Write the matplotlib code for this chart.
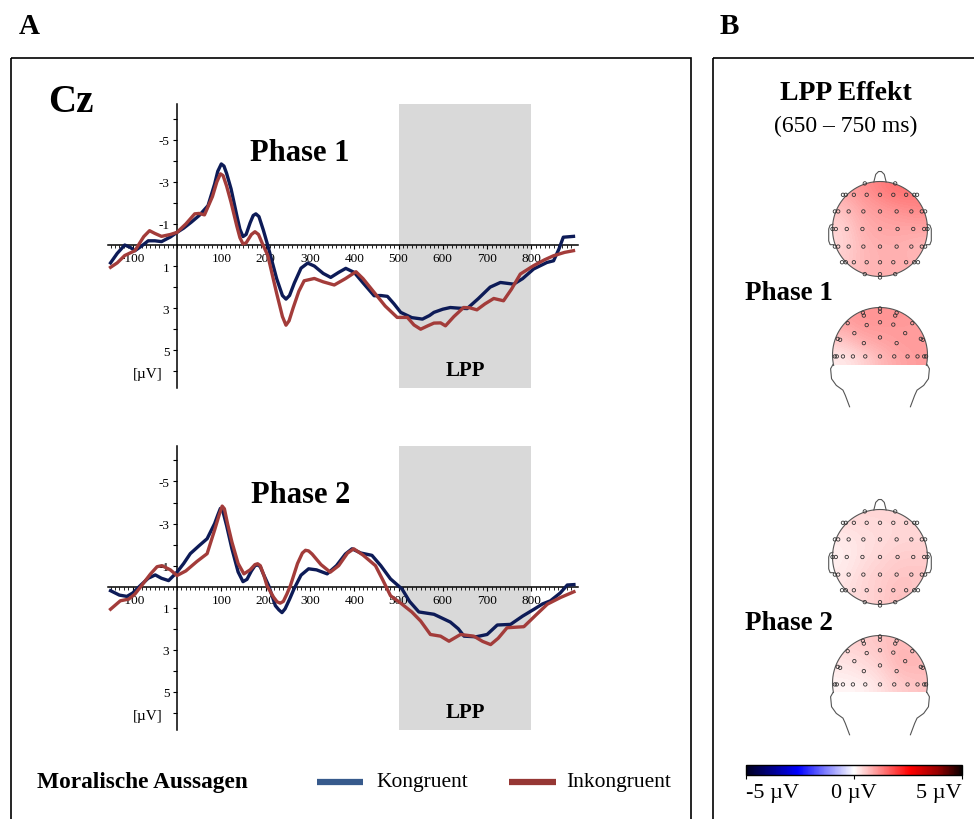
import numpy as np
import matplotlib.pyplot as plt
from matplotlib.colors import LinearSegmentedColormap, Normalize
from matplotlib.patches import Rectangle, Circle, Polygon
from matplotlib.ticker import FixedLocator
import matplotlib.cm as cm

plt.rcParams['font.family'] = ['Liberation Serif', 'DejaVu Serif']

W, H = 974, 820

# ---- ERP data at Cz (time in ms, amplitude in microvolt, negative up) ----
p1_kon_t = [-150, -135, -118, -105, -95, -80, -65, -50, -35, -15, 0, 15, 32, 50, 70, 85, 92, 100,
            106, 112, 122, 135, 142, 149, 156, 165, 172, 178, 185, 195, 205, 225, 238, 246, 254,
            265, 280, 295, 310, 330, 347, 365, 381, 400, 420, 445, 460, 475, 490, 505, 530, 554,
            570, 580, 600, 617, 635, 655, 680, 707, 730, 760, 780, 805, 835, 850, 862, 872, 895]
p1_kon_v = [0.85, 0.4, 0.0, 0.12, 0.27, 0.05, -0.2, -0.2, -0.16, -0.38, -0.6, -0.8, -1.08, -1.4,
            -1.87, -2.9, -3.5, -3.85, -3.75, -3.4, -2.67, -1.4, -0.75, -0.4, -0.5, -1.05, -1.4,
            -1.48, -1.35, -0.7, 0.03, 1.6, 2.4, 2.57, 2.4, 1.8, 1.1, 0.86, 1.0, 1.35, 1.54, 1.3,
            1.11, 1.3, 1.8, 2.41, 2.4, 2.44, 2.8, 3.2, 3.45, 3.52, 3.35, 3.2, 3.05, 2.97, 3.0, 3.02,
            2.55, 2.0, 1.78, 1.86, 1.6, 1.14, 0.83, 0.75, 0.2, -0.37, -0.41]

p1_ink_t = [-150, -135, -118, -95, -75, -62, -50, -35, -15, 0, 20, 40, 50, 62, 80, 90, 98, 104,
            112, 122, 135, 142, 149, 156, 168, 176, 184, 192, 205, 225, 238, 246, 253, 262, 275,
            287, 310, 330, 355, 380, 404, 420, 445, 470, 497, 520, 535, 550, 565, 580, 595, 606,
            625, 647, 660, 677, 695, 715, 737, 755, 775, 805, 830, 850, 875, 895]
p1_ink_v = [1.06, 0.85, 0.5, 0.27, -0.4, -0.68, -0.55, -0.41, -0.5, -0.6, -1.0, -1.48, -1.5,
            -1.43, -2.3, -3.0, -3.38, -3.3, -2.8, -2.03, -0.9, -0.35, -0.05, -0.1, -0.5, -0.63,
            -0.5, -0.1, 0.5, 2.3, 3.4, 3.81, 3.6, 3.0, 2.2, 1.7, 1.59, 1.75, 1.9, 1.6, 1.27, 1.6,
            2.25, 2.9, 3.44, 3.44, 3.8, 4.0, 3.85, 3.71, 3.7, 3.84, 3.4, 2.97, 2.98, 3.08, 2.8,
            2.54, 2.65, 2.1, 1.38, 0.98, 0.7, 0.51, 0.35, 0.27]

p2_kon_t = [-150, -130, -113, -100, -83, -65, -49, -35, -19, 0, 15, 30, 50, 68, 85, 92, 98, 104,
            112, 124, 138, 149, 158, 168, 176, 182, 188, 195, 207, 222, 230, 237, 244, 254, 264,
            280, 297, 315, 339, 360, 380, 395, 415, 440, 460, 482, 508, 525, 546, 580, 617, 635,
            648, 675, 700, 723, 753, 780, 806, 825, 843, 865, 881, 896]
p2_kon_v = [0.19, 0.4, 0.46, 0.3, -0.05, -0.4, -0.56, -0.4, -0.29, -0.69, -1.1, -1.57, -1.95,
            -2.28, -3.0, -3.4, -3.72, -3.55, -2.9, -1.8, -0.7, -0.24, -0.35, -0.75, -1.0, -1.04,
            -0.95, -0.6, -0.05, 0.9, 1.1, 1.23, 1.05, 0.6, 0.11, -0.55, -0.85, -0.8, -0.61, -1.0,
            -1.55, -1.8, -1.6, -1.49, -1.0, -0.37, 0.11, 0.7, 1.2, 1.31, 1.68, 2.0, 2.35, 2.38,
            2.27, 1.82, 1.79, 1.4, 1.07, 0.82, 0.67, 0.3, -0.08, -0.1]

p2_ink_t = [-150, -128, -109, -95, -83, -60, -45, -34, -15, 0, 20, 45, 68, 85, 95, 102, 107, 114,
            124, 138, 151, 165, 176, 182, 188, 196, 203, 218, 226, 233, 240, 248, 256, 272, 283,
            290, 297, 305, 325, 346, 365, 385, 399, 420, 448, 465, 482, 505, 530, 550, 572, 595,
            614, 640, 670, 690, 708, 725, 745, 783, 810, 836, 866, 896]
p2_ink_v = [1.07, 0.67, 0.59, 0.35, 0.03, -0.6, -0.95, -1.0, -0.8, -0.53, -0.75, -1.2, -1.57,
            -2.7, -3.4, -3.83, -3.7, -3.0, -2.12, -1.1, -0.61, -0.8, -1.05, -1.09, -1.0, -0.55,
            -0.05, 0.5, 0.72, 0.78, 0.7, 0.35, -0.05, -1.1, -1.6, -1.73, -1.7, -1.55, -1.05,
            -0.69, -1.0, -1.6, -1.8, -1.5, -1.0, -0.3, 0.43, 0.78, 1.2, 1.63, 2.27, 2.35, 2.59,
            2.27, 2.35, 2.6, 2.75, 2.45, 1.95, 1.9, 1.35, 0.83, 0.51, 0.24]

x_ticks = [-100, 100, 200, 300, 400, 500, 600, 700, 800]
x_labels = ['-100', '100', '200', '300', '400', '500', '600', '700', '800']
y_ticks = [-5, -3, -1, 1, 3, 5]
y_labels = ['-5', '-3', '-1', '1', '3', '5']
lpp_window = (500, 800)

# ---- LPP effect topographies (Inkongruent - Kongruent, 650-750 ms), coarse grids ----
p1_top_grid = [[0.9, 1.1, 1.3, 1.5, 1.4],
               [0.6, 0.9, 1.0, 1.1, 1.2],
               [0.4, 0.8, 0.9, 0.9, 0.9],
               [0.4, 0.7, 0.8, 0.8, 0.7],
               [0.5, 0.7, 0.8, 0.8, 0.8]]
p1_back_grid = [[1.0, 1.1, 1.1, 1.1, 1.0],
                [0.8, 1.0, 1.0, 1.0, 1.0],
                [0.5, 0.8, 0.9, 1.0, 1.0],
                [0.2, 0.4, 0.7, 0.9, 1.0]]
p2_top_grid = [[0.4, 0.4, 0.4, 0.4, 0.4],
               [0.2, 0.3, 0.35, 0.4, 0.4],
               [0.15, 0.3, 0.4, 0.5, 0.5],
               [0.2, 0.4, 0.5, 0.6, 0.6],
               [0.3, 0.4, 0.5, 0.7, 0.5]]
p2_back_grid = [[0.5, 0.5, 0.6, 0.7, 0.6],
                [0.3, 0.4, 0.5, 0.8, 0.7],
                [0.2, 0.3, 0.4, 0.7, 0.7],
                [0.1, 0.1, 0.3, 0.5, 0.6]]

# electrode layout (unit head radius)
top_rows = [(0.96, [-0.32, 0.32]),
            (0.72, [-0.78, -0.72, -0.55, -0.28, 0, 0.28, 0.55, 0.72, 0.78]),
            (0.37, [-0.95, -0.88, -0.66, -0.35, 0, 0.35, 0.66, 0.88, 0.95]),
            (0.0, [-1.0, -0.93, -0.7, -0.37, 0, 0.37, 0.7, 0.93, 1.0]),
            (-0.37, [-0.95, -0.88, -0.66, -0.35, 0, 0.35, 0.66, 0.88, 0.95]),
            (-0.70, [-0.8, -0.72, -0.55, -0.28, 0, 0.28, 0.55, 0.72, 0.8]),
            (-0.95, [-0.32, 0, 0.32]),
            (-1.02, [0])]
back_pts = [(0, 0.98), (0, 0.91), (-0.36, 0.89), (-0.34, 0.83), (0.35, 0.89), (0.32, 0.83),
            (-0.68, 0.67), (-0.28, 0.63), (0, 0.69), (0.28, 0.64), (0.68, 0.67),
            (-0.54, 0.46), (0.53, 0.46), (0, 0.37),
            (-0.89, 0.34), (-0.84, 0.32), (-0.34, 0.25), (0.35, 0.25), (0.86, 0.34), (0.9, 0.32)]
back_pts += [(x, -0.03) for x in [-0.95, -0.91, -0.78, -0.57, -0.31, 0, 0.3, 0.58, 0.79, 0.93, 0.97]]

blue = '#0d1b57'
red = '#a33c3a'
blue_leg = '#375a8c'
red_leg = '#963734'

cmap = LinearSegmentedColormap.from_list('lpp', [
    (0.0, '#00001e'), (0.11, '#000082'), (0.24, '#0000ff'), (0.5, '#ffffff'),
    (0.76, '#ff0000'), (0.89, '#960000'), (1.0, '#0a0000')])
norm = Normalize(-5, 5)


def px_rect(l, t, r, b):
    return [l / W, 1 - b / H, (r - l) / W, (b - t) / H]


fig = plt.figure(figsize=(W / 100, H / 100), dpi=100)
bg = fig.add_axes([0, 0, 1, 1])
bg.set_xlim(0, W)
bg.set_ylim(H, 0)
bg.axis('off')

# panel frames and letters
bg.add_patch(Rectangle((10.5, 58.5), 680.5, 800, fill=False, lw=1.2, ec='black'))
bg.add_patch(Rectangle((712.5, 58.5), 300, 800, fill=False, lw=1.2, ec='black'))
bg.text(29, 27, 'A', fontsize=21, fontweight='bold', ha='center', va='center')
bg.text(729, 27, 'B', fontsize=21, fontweight='bold', ha='center', va='center')
bg.text(71, 103, 'Cz', fontsize=28, fontweight='bold', ha='center', va='center')


def erp_panel(zero_px, kon_t, kon_v, ink_t, ink_v, title):
    xs, ys = 0.443, 21.05
    xl, yl = (-155, 905), (6.8, -6.7)
    l, r = 177 + xl[0] * xs, 177 + xl[1] * xs
    t, b = zero_px + yl[1] * ys, zero_px + yl[0] * ys
    ax = fig.add_axes(px_rect(l, t, r, b))
    ax.patch.set_alpha(0)
    ax.set_xlim(*xl)
    ax.set_ylim(*yl)
    ax.axvspan(*lpp_window, color='#d9d9d9', zorder=0, lw=0)
    ax.plot(kon_t, kon_v, color=blue, lw=2.4, zorder=3, solid_joinstyle='round')
    ax.plot(ink_t, ink_v, color=red, lw=2.4, zorder=3, solid_joinstyle='round')
    for s in ['top', 'right']:
        ax.spines[s].set_visible(False)
    ax.spines['left'].set_position(('data', 0))
    ax.spines['bottom'].set_position(('data', 0))
    for s in ['left', 'bottom']:
        ax.spines[s].set_linewidth(1.1)
        ax.spines[s].set_zorder(2)
    ax.xaxis.set_major_locator(FixedLocator(x_ticks))
    ax.set_xticklabels(x_labels, fontsize=9.5)
    ax.xaxis.set_minor_locator(FixedLocator(np.arange(-150, 900, 10)))
    ax.yaxis.set_major_locator(FixedLocator(y_ticks))
    ax.set_yticklabels(y_labels, fontsize=9.5)
    ax.yaxis.set_minor_locator(FixedLocator([-6, -4, -2, 2, 4, 6]))
    ax.tick_params(axis='x', which='major', length=3, width=0.8, pad=2)
    ax.tick_params(axis='x', which='minor', length=2, width=0.6)
    ax.tick_params(axis='y', which='both', length=3, width=0.8, pad=2.5)
    ax.text(278, -4.38, title, fontsize=22, fontweight='bold', ha='center', va='center')
    ax.text(650, 5.95, 'LPP', fontsize=15, fontweight='bold', ha='center', va='center')
    ax.text(-65, 6.1, '[µV]', fontsize=11, ha='center', va='center')
    return ax


erp_panel(246, p1_kon_t, p1_kon_v, p1_ink_t, p1_ink_v, 'Phase 1')
erp_panel(587.7, p2_kon_t, p2_kon_v, p2_ink_t, p2_ink_v, 'Phase 2')

# legend
bg.text(37, 783, 'Moralische Aussagen', fontsize=16.8, fontweight='bold', ha='left', va='center')
bg.plot([317, 363], [783, 783], color=blue_leg, lw=4.5, solid_capstyle='butt')
bg.text(376, 783, 'Kongruent', fontsize=15.5, ha='left', va='center')
bg.plot([509, 556], [783, 783], color=red_leg, lw=4.5, solid_capstyle='butt')
bg.text(566, 783, 'Inkongruent', fontsize=15.5, ha='left', va='center')

# panel B titles
bg.text(846, 94, 'LPP Effekt', fontsize=20, fontweight='bold', ha='center', va='center')
bg.text(846, 126, '(650 – 750 ms)', fontsize=17, ha='center', va='center')
bg.text(789, 294, 'Phase 1', fontsize=19.5, fontweight='bold', ha='center', va='center')
bg.text(789, 624, 'Phase 2', fontsize=19.5, fontweight='bold', ha='center', va='center')


def draw_top(cx, cy, r, grid):
    th = np.linspace(0, 2 * np.pi, 200)
    clip = Circle((cx, cy), r, transform=bg.transData)
    im = bg.imshow(np.array(grid), cmap=cmap, norm=norm, interpolation='bicubic',
                   extent=(cx - r, cx + r, cy + r, cy - r), origin='upper', zorder=1)
    im.set_clip_path(clip)
    bg.plot(cx + r * np.cos(th), cy - r * np.sin(th), color='#555555', lw=0.8, zorder=2)
    nose = np.array([(-0.13, 0.99), (-0.09, 1.15), (-0.03, 1.21), (0.03, 1.21), (0.09, 1.15), (0.13, 0.99)])
    bg.plot(cx + r * nose[:, 0], cy - r * nose[:, 1], color='#555555', lw=0.8, zorder=2)
    ear = np.array([(-0.99, 0.1), (-1.05, 0.08), (-1.08, 0.0), (-1.08, -0.25), (-1.05, -0.33), (-0.98, -0.33)])
    for sgn in (-1, 1):
        bg.plot(cx + sgn * r * ear[:, 0], cy - r * ear[:, 1], color='#555555', lw=0.8, zorder=2)
    ex = [x for y, row in top_rows for x in row]
    ey = [y for y, row in top_rows for x in row]
    bg.scatter(cx + r * np.array(ex), cy - r * np.array(ey), s=6, facecolor='none',
               edgecolor='#333333', lw=0.6, zorder=3)


def draw_back(cx, cy, r, grid, cut=0.22):
    a0 = np.arcsin(-cut)
    th = np.linspace(a0, np.pi - a0, 150)
    seg = np.column_stack([cx + r * np.cos(th), cy - r * np.sin(th)])
    clip = Polygon(seg, closed=True, transform=bg.transData)
    im = bg.imshow(np.array(grid), cmap=cmap, norm=norm, interpolation='bicubic',
                   extent=(cx - r, cx + r, cy + cut * r, cy - r), origin='upper', zorder=1)
    im.set_clip_path(clip)
    bg.plot(seg[:, 0], seg[:, 1], color='#555555', lw=0.8, zorder=2)
    neck = np.array([(-0.99, -0.2), (-1.04, -0.29), (-1.02, -0.5), (-0.92, -0.64),
                     (-0.78, -0.74), (-0.73, -0.85), (-0.64, -1.09)])
    for sgn in (-1, 1):
        bg.plot(cx + sgn * r * neck[:, 0], cy - r * neck[:, 1], color='#555555', lw=0.8, zorder=2)
    bx = np.array([p[0] for p in back_pts])
    by = np.array([p[1] for p in back_pts])
    bg.scatter(cx + r * bx, cy - r * by, s=6, facecolor='none', edgecolor='#333333',
               lw=0.6, zorder=3)


draw_top(880, 230, 47.5, p1_top_grid)
draw_back(880, 356, 47.5, p1_back_grid)
draw_top(880, 558, 47.5, p2_top_grid)
draw_back(880, 684, 47.5, p2_back_grid, cut=0.2)

bg.set_xlim(0, W)
bg.set_ylim(H, 0)

# colorbar
cax = fig.add_axes(px_rect(746, 766, 962, 776))
cb = fig.colorbar(cm.ScalarMappable(norm=norm, cmap=cmap), cax=cax, orientation='horizontal',
                  ticks=[-5, 0, 5])
cb.ax.set_xticklabels(['-5 µV', '0 µV', '5 µV'], fontsize=16)
labs = cb.ax.get_xticklabels()
labs[0].set_ha('left')
labs[-1].set_ha('right')
cb.ax.tick_params(length=3, width=0.8, pad=3)
cb.outline.set_linewidth(1.0)

fig.savefig('out.png', dpi=100)
